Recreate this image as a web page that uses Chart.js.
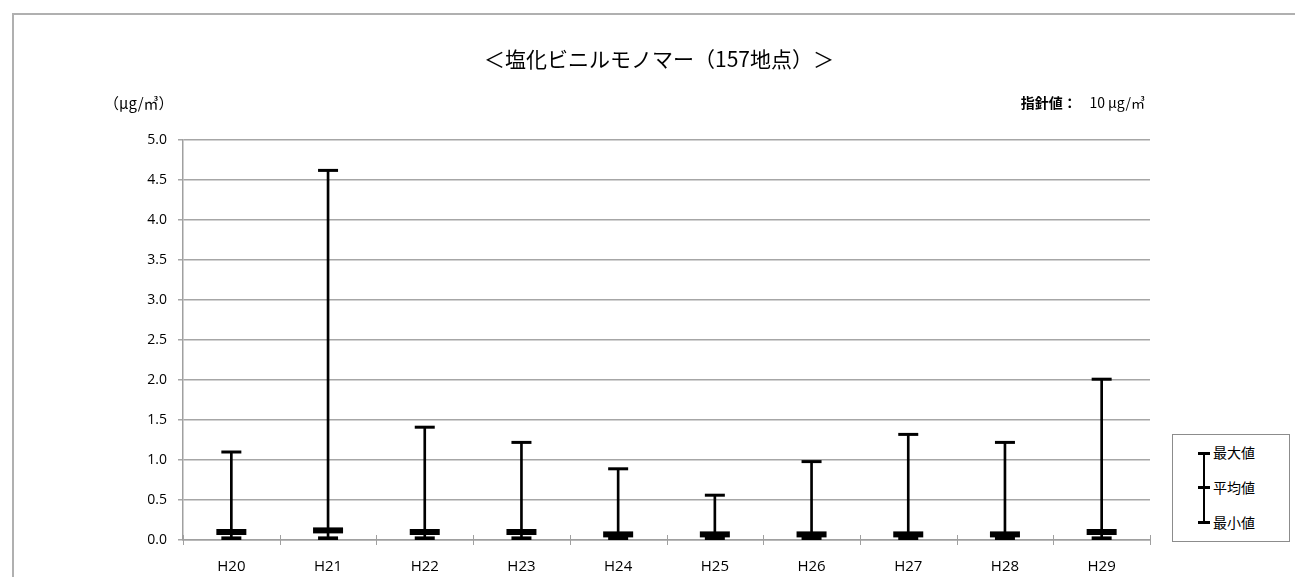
<!DOCTYPE html>
<html>
<head>
<meta charset="utf-8">
<script src="https://cdn.jsdelivr.net/npm/chart.js@4"></script>
<style>
  html, body { margin: 0; padding: 0; background: #fff; overflow: hidden; }
  #wrap { position: relative; width: 1295px; height: 577px; overflow: hidden; }
  #frame { position: absolute; left: 12px; top: 13px; width: 1400px; height: 700px; border: 2px solid #b0b0b0; }
  canvas { position: absolute; left: 0; top: 0; }
  .txt { position: absolute; font-family: "Noto Sans CJK JP", sans-serif; color: #000; white-space: nowrap; }
  #title { left: 0; width: 1318px; top: 43px; text-align: center; font-size: 21px; }
  #unit { left: 104px; top: 92px; font-size: 15px; }
  #guide { right: 150px; top: 92px; font-size: 14px; }
  #legend { position: absolute; left: 1172px; top: 434px; width: 116px; height: 106px; border: 1px solid #8c8c8c; background: #fff; }
  #legend .v { position: absolute; left: 30px; top: 18px; width: 2px; height: 70px; background: #000; }
  #legend .c { position: absolute; width: 12px; height: 3px; background: #000; left: 25px; }
  #legend .l { position: absolute; left: 40px; font-size: 14px; font-family: "Noto Sans CJK JP", sans-serif; color: #000; line-height: 18px; }
</style>
</head>
<body>
<div id="wrap">
  <div id="frame"></div>
  <canvas id="chart" width="1295" height="577"></canvas>
  <div class="txt" id="title">＜塩化ビニルモノマー（157地点）＞</div>
  <div class="txt" id="unit">（μg/㎥）</div>
  <div class="txt" id="guide"><b>指針値：</b>&nbsp;&nbsp;&nbsp;&nbsp;10 μg/㎥</div>
  <div id="legend">
    <div class="v"></div>
    <div class="c" style="top:17px"></div>
    <div class="c" style="top:51px"></div>
    <div class="c" style="top:86px"></div>
    <div class="l" style="top:8px">最大値</div>
    <div class="l" style="top:43px">平均値</div>
    <div class="l" style="top:78px">最小値</div>
  </div>
</div>
<script>
// 年度
var years = ['H20', 'H21', 'H22', 'H23', 'H24', 'H25', 'H26', 'H27', 'H28', 'H29'];
// 最大値・平均値・最小値 (μg/m3)
var maxValues = [1.10, 4.62, 1.41, 1.22, 0.89, 0.56, 0.98, 1.32, 1.22, 2.01];
var meanValues = [0.10, 0.12, 0.10, 0.10, 0.07, 0.07, 0.07, 0.07, 0.07, 0.10];
var minValues = [0.02, 0.02, 0.02, 0.02, 0.02, 0.02, 0.02, 0.02, 0.02, 0.02];
var yTicks = [0, 0.5, 1.0, 1.5, 2.0, 2.5, 3.0, 3.5, 4.0, 4.5, 5.0];

var ranges = years.map(function(y, i) { return [minValues[i], maxValues[i]]; });

// x軸の目盛り線を軸の上下に少しはみ出させる
var crossTicks = {
  id: 'crossTicks',
  afterDraw: function(chart) {
    var x = chart.scales.x, c = chart.ctx, b = chart.chartArea.bottom;
    c.save();
    c.strokeStyle = '#a0a0a0';
    c.lineWidth = 1;
    for (var i = 0; i <= years.length; i++) {
      var px = Math.round(x.left + i * (x.right - x.left) / years.length) + 0.5;
      c.beginPath();
      c.moveTo(px, b - 5);
      c.lineTo(px, b + 5);
      c.stroke();
    }
    c.restore();
  }
};

var ctx = document.getElementById('chart').getContext('2d');
var chart = new Chart(ctx, {
  data: {
    labels: years,
    datasets: [
      {
        type: 'bar',
        label: '範囲',
        data: ranges,
        backgroundColor: '#000',
        barThickness: 2,
        order: 4
      },
      {
        type: 'line',
        label: '最大値',
        data: maxValues,
        showLine: false,
        pointStyle: 'line',
        pointRadius: 10,
        pointBorderWidth: 3,
        borderColor: '#000',
        order: 1
      },
      {
        type: 'line',
        label: '平均値',
        data: meanValues,
        showLine: false,
        pointStyle: 'line',
        pointRadius: 15,
        pointBorderWidth: 6,
        borderColor: '#000',
        order: 2
      },
      {
        type: 'line',
        label: '最小値',
        data: minValues,
        showLine: false,
        pointStyle: 'line',
        pointRadius: 10,
        pointBorderWidth: 4,
        borderColor: '#000',
        order: 3
      }
    ]
  },
  options: {
    responsive: false,
    animation: false,
    layout: { padding: { left: 0, right: 145, top: 140, bottom: 0 } },
    plugins: {
      legend: { display: false },
      tooltip: { enabled: false },
      title: { display: false }
    },
    scales: {
      x: {
        offset: true,
        grid: { display: false },
        border: { color: '#a0a0a0', width: 1.5 },
        ticks: { color: '#000', padding: 10, font: { family: 'Open Sans', size: 15 } },
        afterFit: function(scale) { scale.height = 37; }
      },
      y: {
        min: 0,
        max: 5,
        afterBuildTicks: function(scale) { scale.ticks = yTicks.map(function(v) { return { value: v }; }); },
        grid: { color: '#a6a6a6', lineWidth: 1.5, tickLength: 5 },
        border: { color: '#a0a0a0', width: 1.5 },
        ticks: {
          color: '#000',
          padding: 11,
          font: { family: 'Open Sans', size: 14 },
          callback: function(v) { return Number(v).toFixed(1); }
        },
        afterFit: function(scale) { scale.width = 183; }
      }
    }
  },
  plugins: [crossTicks]
});
</script>
</body>
</html>
